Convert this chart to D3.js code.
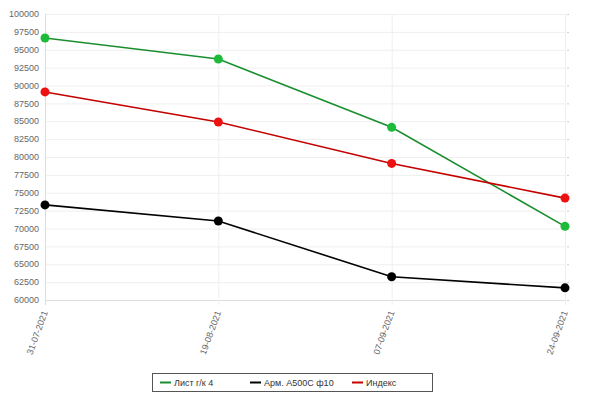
<!DOCTYPE html>
<html>
<head>
<meta charset="utf-8">
<script src="https://cdn.jsdelivr.net/npm/d3@7.9.0/dist/d3.min.js"></script>
<style>
  body { margin: 0; background: #fff; }
  svg { display: block; font-family: Arial, "Liberation Sans", sans-serif; }
</style>
</head>
<body>
<svg id="chart" width="590" height="396"></svg>
<script>
// data
const dates = ['31-07-2021', '19-08-2021', '07-09-2021', '24-09-2021'];
const listGk4 = [96650, 93700, 84150, 70300];
const armA500 = [73300, 71050, 63250, 61700];
const indexVals = [89100, 84900, 79100, 74250];
const yTicks = d3.range(60000, 100001, 2500);

const series = [
  { name: 'Лист г/к 4', values: listGk4, line: '#1b8f2f', dot: '#1dbb3a' },
  { name: 'Арм. А500С ф10', values: armA500, line: '#000', dot: '#000' },
  { name: 'Индекс', values: indexVals, line: '#c40000', dot: '#ee1111' }
];

const svg = d3.select('#chart');
const m = { left: 45, right: 565, top: 14, bottom: 300 };

const x = d3.scalePoint().domain(dates).range([m.left, m.right]);
const y = d3.scaleLinear().domain([60000, 100000]).range([m.bottom, m.top]);

// grid
svg.append('g').selectAll('line').data(yTicks).join('line')
  .attr('x1', m.left).attr('x2', m.right)
  .attr('y1', d => y(d) + 0.5).attr('y2', d => y(d) + 0.5)
  .attr('stroke', d => d === 60000 ? '#ddd' : '#efefef');
svg.append('g').selectAll('line').data(dates).join('line')
  .attr('x1', d => x(d) + 0.5).attr('x2', d => x(d) + 0.5)
  .attr('y1', m.top).attr('y2', m.bottom + 5)
  .attr('stroke', (d, i) => i === 0 ? '#ddd' : '#efefef');

// little ticks on the right edge
svg.append('g').selectAll('line').data(yTicks).join('line')
  .attr('x1', m.right + 2).attr('x2', m.right + 4)
  .attr('y1', d => y(d) + 0.5).attr('y2', d => y(d) + 0.5)
  .attr('stroke', '#ccc');

// y labels
svg.append('g').selectAll('text').data(yTicks).join('text')
  .attr('x', m.left - 6).attr('y', d => y(d))
  .attr('dy', '0.35em')
  .attr('text-anchor', 'end')
  .attr('font-size', 9).attr('fill', '#666')
  .text(d => d);

// x labels, rotated
svg.append('g').selectAll('text').data(dates).join('text')
  .attr('transform', d => `translate(${x(d) + 3},${m.bottom + 12}) rotate(-70)`)
  .attr('text-anchor', 'end')
  .attr('font-size', 9).attr('fill', '#666')
  .text(d => d);

// lines + dots
const line = d3.line().x((d, i) => x(dates[i])).y(d => y(d));
series.forEach(s => {
  svg.append('path')
    .attr('d', line(s.values))
    .attr('fill', 'none')
    .attr('stroke', s.line)
    .attr('stroke-width', 1.6);
  svg.append('g').selectAll('circle').data(s.values).join('circle')
    .attr('cx', (d, i) => x(dates[i]))
    .attr('cy', d => y(d))
    .attr('r', 4.5)
    .attr('fill', s.dot);
});

// legend
const lg = svg.append('g').attr('transform', 'translate(152,373)');
lg.append('rect').attr('x', 0.5).attr('y', 0.5).attr('width', 280).attr('height', 18)
  .attr('fill', '#fff').attr('stroke', '#555');
const lgX = [8, 98, 200];
series.forEach((s, i) => {
  lg.append('line')
    .attr('x1', lgX[i]).attr('x2', lgX[i] + 11)
    .attr('y1', 9.5).attr('y2', 9.5)
    .attr('stroke', s.line).attr('stroke-width', 2);
  lg.append('text')
    .attr('x', lgX[i] + 14).attr('y', 9.5).attr('dy', '0.35em')
    .attr('font-size', 9).attr('fill', '#333')
    .text(s.name);
});
</script>
</body>
</html>
